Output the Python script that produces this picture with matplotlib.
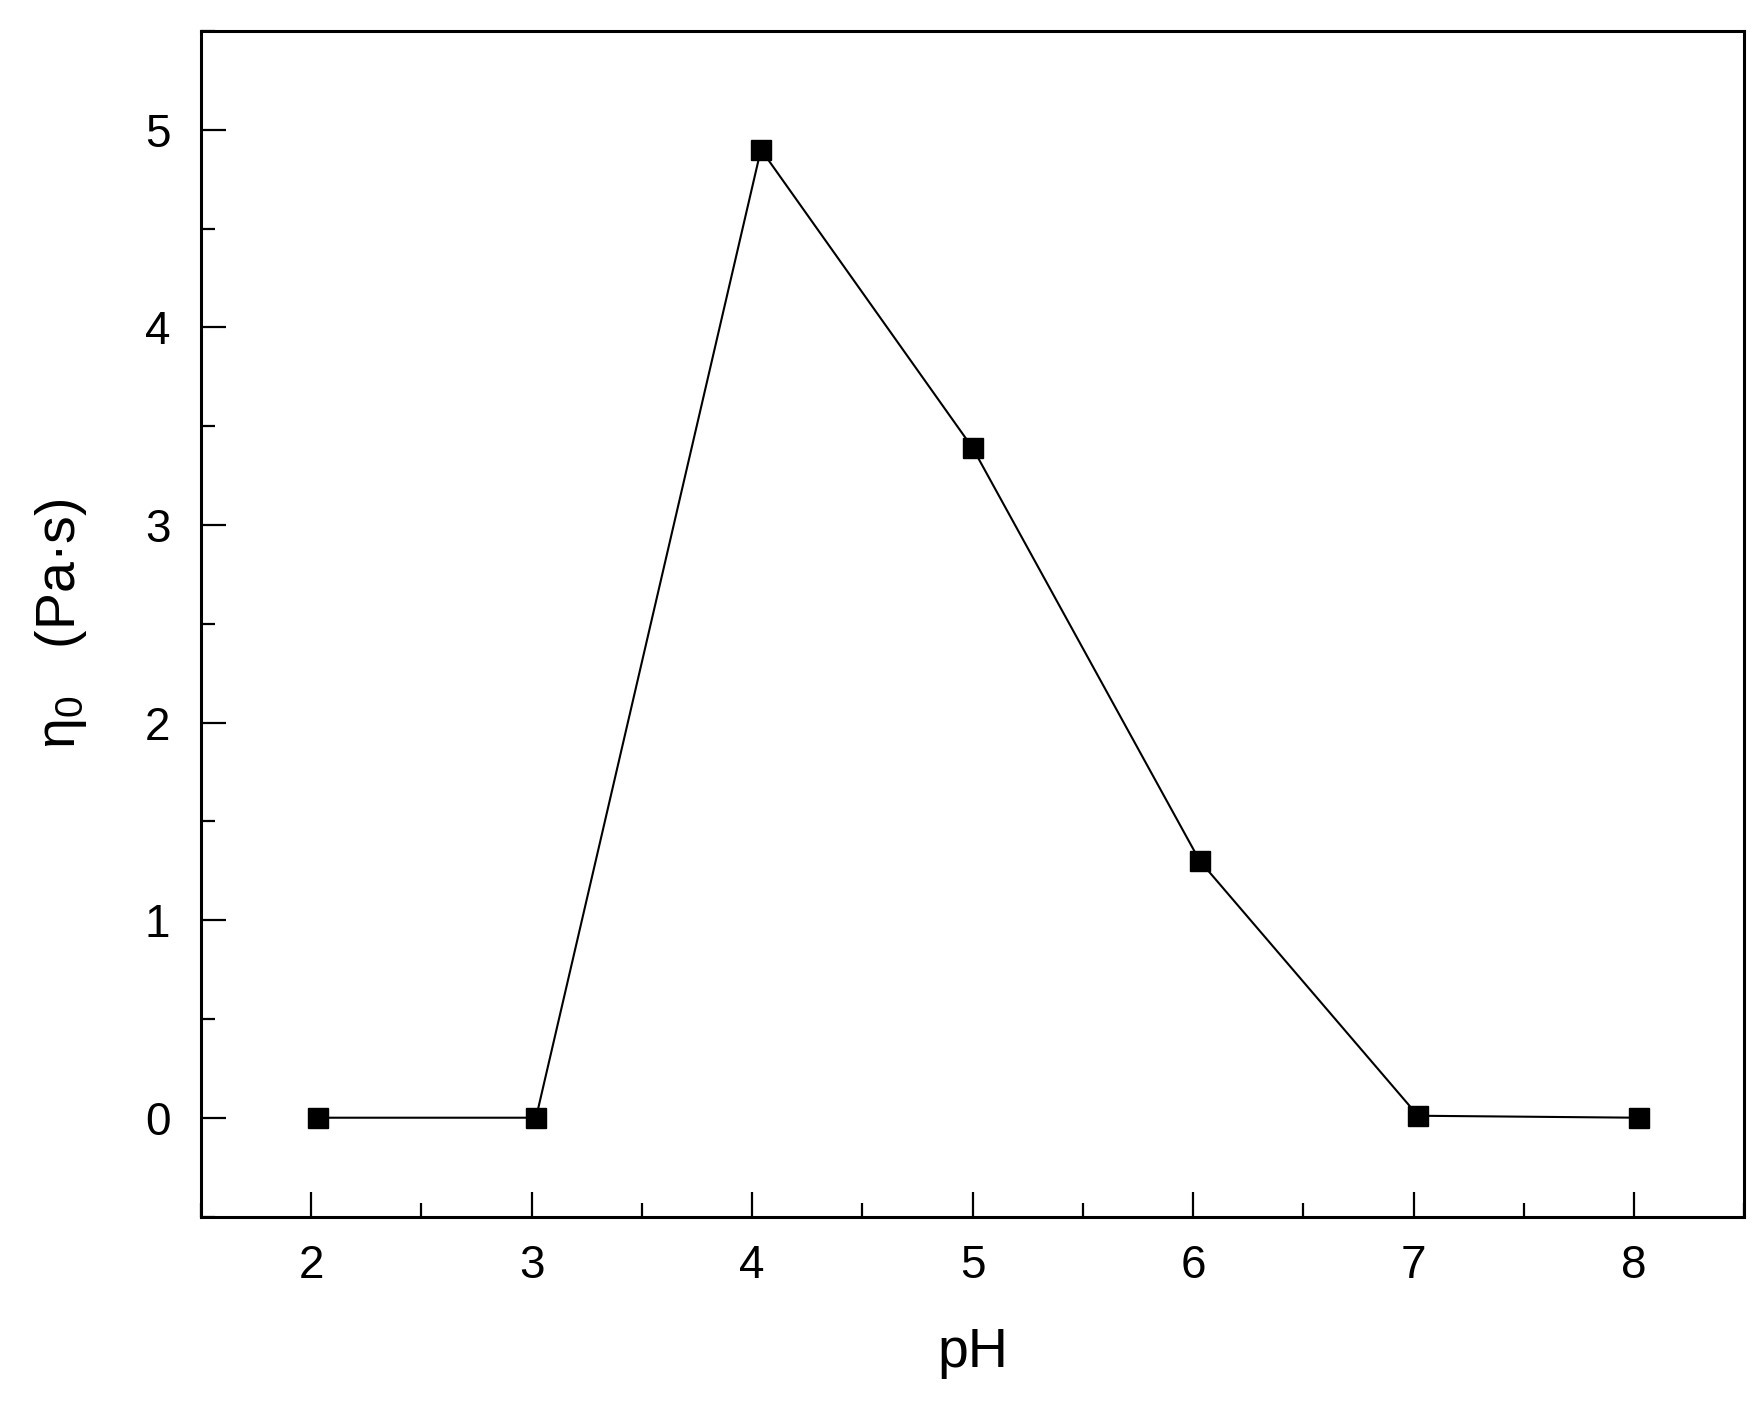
import matplotlib
matplotlib.use("Agg")
import matplotlib.pyplot as plt
from matplotlib.ticker import MultipleLocator

# zero-shear viscosity vs pH
ph = [2.03, 3.02, 4.04, 5.0, 6.03, 7.02, 8.02]
eta0 = [0.0, 0.0, 4.9, 3.39, 1.30, 0.01, 0.0]

plt.rcParams['font.family'] = ['Liberation Sans', 'DejaVu Sans']

fig = plt.figure(figsize=(17.62, 14.08), dpi=100)
ax = fig.add_axes([0.114, 0.136, 0.876, 0.842])

ax.plot(ph, eta0, color='black', linewidth=1.5, marker='s',
        markersize=15, markerfacecolor='black', markeredgecolor='black')

ax.set_xlim(1.5, 8.5)
ax.set_ylim(-0.5, 5.5)
ax.xaxis.set_major_locator(MultipleLocator(1))
ax.xaxis.set_minor_locator(MultipleLocator(0.5))
ax.yaxis.set_major_locator(MultipleLocator(1))
ax.yaxis.set_minor_locator(MultipleLocator(0.5))

ax.tick_params(which='both', direction='in', top=False, right=False, width=1.6)
ax.tick_params(which='major', length=18, labelsize=33)
ax.tick_params(axis='x', which='major', pad=20)
ax.tick_params(axis='y', which='major', pad=22)
ax.tick_params(which='minor', length=10)
for s in ax.spines.values():
    s.set_linewidth(2.2)

ax.set_xlabel('pH', fontsize=40, labelpad=28)
ax.set_ylabel(r'$\mathregular{\eta_0}$   (Pa·s)', fontsize=40, labelpad=40)

fig.savefig('out.png', dpi=100)
